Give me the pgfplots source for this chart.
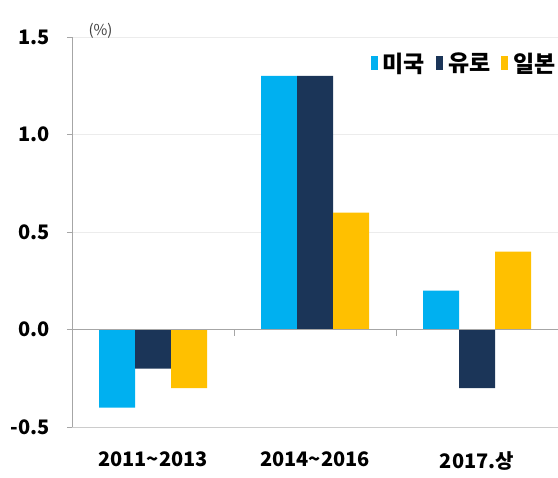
\documentclass[border=0pt]{standalone}
\usepackage{pgfplots}
\pgfplotsset{compat=1.18}
\usepackage{fontspec}
\setmainfont{Noto Sans CJK KR}
\definecolor{cUS}{HTML}{00B0F0}
\definecolor{cEU}{HTML}{1B3558}
\definecolor{cJP}{HTML}{FFC000}
\begin{document}
\begin{tikzpicture}
\begin{axis}[
  scale only axis, width=486pt, height=390pt,
  xmin=-0.5, xmax=2.5, ymin=-0.5, ymax=1.5,
  ybar=0pt, bar width=36pt,
  legend image code/.code={\fill[#1] (0pt,-7pt) rectangle (7pt,7pt);},
  xtick={0,1,2},
  xticklabels={2011\textasciitilde 2013, 2014\textasciitilde 2016, 2017.상},
  ytick={-0.5,0,0.5,1,1.5},
  /pgf/number format/assume math mode=true,
  yticklabel={\pgfmathprintnumber[fixed,fixed zerofill,precision=1]{\tick}},
  axis line style={draw=none},
  ytick pos=left, tick align=outside,
  major tick length=5pt,
  ytick style={gray!70, line width=0.6pt},
  xtick style={draw=none},
  ymajorgrids, grid style={gray!15, line width=0.8pt},
  yticklabel style={font=\bfseries\fontsize{20}{20}\selectfont, xshift=-14pt},
  xticklabel style={font=\bfseries\fontsize{20}{20}\selectfont, yshift=-16pt},
  legend style={at={(axis description cs:1.006,0.933)}, anchor=east, draw=none, fill=none,
    legend columns=3,
    font=\bfseries\fontsize{23}{23}\selectfont,
    /tikz/every odd column/.append style={column sep=3pt},
    /tikz/every even column/.append style={column sep=9pt}},
  clip=false,
]
\addplot[draw=none, fill=cUS] coordinates {(0,-0.4) (1,1.3) (2,0.2)};
\addplot[draw=none, fill=cEU] coordinates {(0,-0.2) (1,1.3) (2,-0.3)};
\addplot[draw=none, fill=cJP] coordinates {(0,-0.3) (1,0.6) (2,0.4)};
\legend{미국, 유로, 일본}
\draw[gray!70, line width=0.6pt] (rel axis cs:0,0) -- (rel axis cs:0,1);
\draw[gray!40, line width=0.8pt] (rel axis cs:0,0) -- (rel axis cs:1,0);
\draw[gray!70, line width=0.6pt] (axis cs:-0.5,0) -- (axis cs:2.5,0);
\draw[gray!70, line width=0.6pt] (axis cs:0.5,0) -- ([yshift=-6pt]axis cs:0.5,0);
\draw[gray!70, line width=0.6pt] (axis cs:1.5,0) -- ([yshift=-6pt]axis cs:1.5,0);
\node[anchor=west, font=\fontsize{15}{15}\selectfont, text=black!75] at (rel axis cs:0,1) [xshift=13pt, yshift=6pt] {(\%)};
\coordinate (ll) at (rel axis cs:0,0);
\coordinate (ur) at (rel axis cs:1,1);
\end{axis}
\pgfresetboundingbox
\path[use as bounding box] ([xshift=-72pt,yshift=-50pt]ll) rectangle ([yshift=37pt]ur);
\end{tikzpicture}
\end{document}
